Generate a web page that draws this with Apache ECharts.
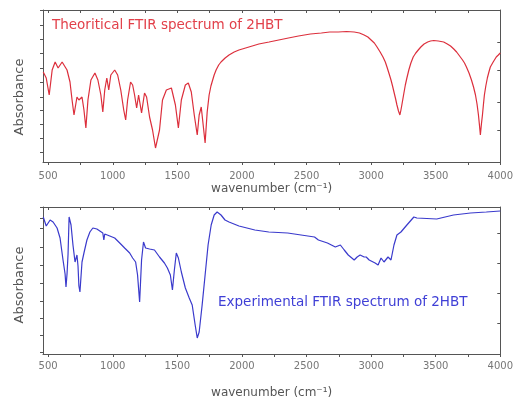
<!DOCTYPE html>
<html>
<head>
<meta charset="utf-8">
<script src="https://cdn.jsdelivr.net/npm/echarts@6/dist/echarts.min.js"></script>
<style>html,body{margin:0;padding:0;background:#fff}#c{width:516px;height:401px}</style>
</head>
<body>
<div id="c"></div>
<script>
// Theoretical FTIR spectrum (wavenumber, absorbance in arbitrary units)
const theoWn = [462,485,508,531,554,577,608,623,646,669,685,700,708,723,738,762,777,792,808,831,862,885,908,923,938,954,969,985,1015,1038,1062,1085,1100,1115,1138,1154,1169,1185,1200,1223,1246,1262,1285,1308,1331,1346,1362,1385,1415,1454,1485,1508,1531,1562,1585,1608,1631,1654,1669,1685,1700,1715,1731,1746,1760,1769,1785,1800,1820,1838,1870,1900,1940,1977,2054,2131,2210,2285,2360,2438,2530,2615,2680,2746,2810,2869,2910,2946,2975,3000,3025,3046,3070,3092,3110,3123,3140,3154,3166,3177,3190,3200,3212,3223,3231,3238,3246,3254,3265,3277,3292,3308,3326,3346,3365,3385,3410,3438,3460,3485,3520,3562,3590,3615,3640,3662,3685,3708,3723,3738,3758,3777,3793,3808,3820,3831,3838,3846,3854,3862,3870,3877,3888,3900,3912,3923,3945,3969,3985,4000];
const theoAbs = [90,84,67,92,100,94,100,99,92,80,62,47,45,65,62,65,52,34,62,82,89,82,67,50,72,84,72,87,92,87,72,52,42,62,80,77,67,54,67,49,69,65,45,32,14,12,32,62,72,74,57,34,62,77,79,70,47,27,47,55,37,19,50,67,76,80,87,92,97,100,104,107,110,112,115,118,120,122,124,126,128,129,130,130,130.5,130,129,127,125,122,119,115,110,105,100,95,88,82,76,70,63,57,51,47,52,57,63,69,77,84,92,99,105,109,112,115,118,120,121,121.5,121,120,118,116,113,110,106,102,99,95,89,82,75,67,58,47,38,27,38,47,58,67,76,84,90,95,100,105,107,109];
// Experimental FTIR spectrum
const expWn = [462,485,515,538,569,592,615,631,638,646,654,662,677,692,708,723,731,738,746,762,777,800,823,846,877,900,923,931,938,946,977,1015,1054,1092,1131,1154,1177,1192,1208,1223,1238,1254,1285,1323,1362,1400,1423,1446,1462,1477,1492,1508,1531,1562,1592,1615,1638,1654,1669,1692,1715,1738,1762,1785,1808,1838,1869,1900,1977,2100,2208,2354,2562,2592,2662,2723,2762,2792,2823,2869,2892,2915,2946,2962,2985,3000,3031,3054,3077,3100,3115,3131,3138,3154,3177,3200,3231,3277,3331,3354,3508,3638,3769,3892,4000];
const expAbs = [137,128,134,132,126,116,94,80,67,80,100,137,129,109,92,99,88,68,62,92,101,114,122,126,125,123,121,114,120,121,118,116,111,106,101,96,92,79,52,94,112,106,105,104,97,91,86,79,64,84,101,96,82,66,56,49,29,16,22,49,79,109,129,139,142,139,134,132,128,124,122,121,117,114,111,107,109,104,99,94,97,99,97,97,94,94,91,89,96,92,91,97,95,94,109,119,122,129,137,136,135,139,141,142,143];
// Axis ticks and labels
const xTicks = [500,750,1000,1250,1500,1750,2000,2250,2500,2750,3000,3250,3500,3750,4000];
const xLabels = [500,1000,1500,2000,2500,3000,3500,4000];
const topLeftTicks = [10,24,38,52,65,80,94,109,123,137,152];
const topRightTicks = [32,60,92,120];
const botLeftTicks = [2,19,36,53,71,89,107,126,136,147];
const botRightTicks = [31,61,91,121];

const theoTitle = 'Theoritical FTIR spectrum of 2HBT';
const expTitle = 'Experimental FTIR spectrum of 2HBT';
const xName = 'wavenumber (cm\u207B\u00B9)';
const yName = 'Absorbance';

const FONT = '"DejaVu Sans", sans-serif';
const AX = '#555';
const zip = (a, b) => a.map((v, i) => [v, b[i]]);

function xAx(gi, pos, labelMargin, nameGap, showName) {
  return {
    type: 'value', gridIndex: gi, position: pos, min: 460, max: 4000,
    axisLine: {show: true, onZero: false, lineStyle: {color: AX, width: 1}},
    axisTick: {show: true, inside: pos === 'top', length: 3, customValues: xTicks, lineStyle: {color: AX}},
    axisLabel: {show: pos === 'bottom', customValues: xLabels, margin: labelMargin, fontSize: 10, color: '#777', fontFamily: FONT,
                formatter: v => String(v)},
    splitLine: {show: false},
    name: showName ? xName : '', nameLocation: 'middle', nameGap: nameGap,
    nameTextStyle: {fontSize: 12, color: '#555', fontFamily: FONT}
  };
}
function yAx(gi, pos, max, ticks) {
  return {
    type: 'value', gridIndex: gi, position: pos, min: 0, max: max,
    axisLine: {show: true, onZero: false, lineStyle: {color: AX, width: 1}},
    axisTick: {show: true, inside: pos === 'right', length: 3, customValues: ticks, lineStyle: {color: AX}},
    axisLabel: {show: false},
    splitLine: {show: false}
  };
}

const chart = echarts.init(document.getElementById('c'), null, {renderer: 'canvas'});
chart.setOption({
  animation: false,
  backgroundColor: '#fff',
  grid: [
    {left: 43, top: 10, width: 461, height: 152},
    {left: 43, top: 207, width: 460, height: 147}
  ],
  xAxis: [
    xAx(0, 'bottom', 9, 21, true),
    xAx(0, 'top', 8, 0, false),
    xAx(1, 'bottom', 7, 33, true),
    xAx(1, 'top', 8, 0, false)
  ],
  yAxis: [
    yAx(0, 'left', 152, topLeftTicks),
    yAx(0, 'right', 152, topRightTicks),
    yAx(1, 'left', 147, botLeftTicks),
    yAx(1, 'right', 147, botRightTicks)
  ],
  series: [
    {type: 'line', xAxisIndex: 0, yAxisIndex: 0, data: zip(theoWn, theoAbs), showSymbol: false,
     lineStyle: {color: '#dc2f3c', width: 1.2}},
    {type: 'line', xAxisIndex: 2, yAxisIndex: 2, data: zip(expWn, expAbs), showSymbol: false,
     lineStyle: {color: '#3a3acc', width: 1.2}}
  ],
  graphic: [
    {type: 'text', left: 52, top: 18, style: {text: theoTitle, fill: '#e2404a', fontSize: 13.5, fontFamily: FONT}},
    {type: 'text', left: 218, top: 295, style: {text: expTitle, fill: '#3f3fd6', fontSize: 13.5, fontFamily: FONT}},
    {type: 'text', x: 20, y: 97, rotation: Math.PI / 2,
     style: {text: yName, fill: '#555', fontSize: 13, fontFamily: FONT, align: 'center', verticalAlign: 'middle'}},
    {type: 'text', x: 20, y: 285, rotation: Math.PI / 2,
     style: {text: yName, fill: '#555', fontSize: 13, fontFamily: FONT, align: 'center', verticalAlign: 'middle'}}
  ]
});
</script>
</body>
</html>
